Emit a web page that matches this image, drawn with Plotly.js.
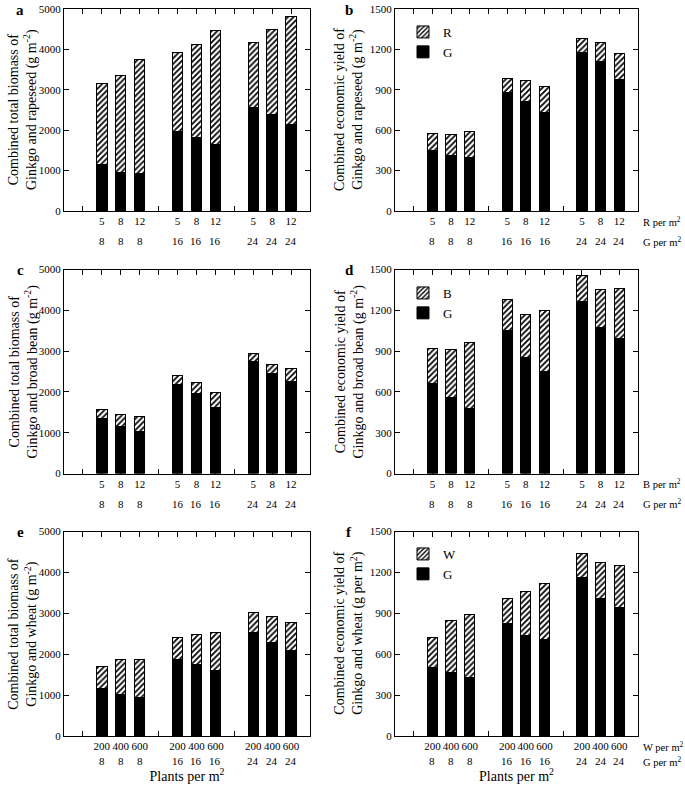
<!DOCTYPE html>
<html><head><meta charset="utf-8">
<script src="https://cdn.plot.ly/plotly-3.0.1.min.js"></script>
<style>html,body{margin:0;padding:0;background:#fff}#chart{width:685px;height:789px}</style>
</head><body><div id="chart"></div>
<script>
// ---- tick labels ----
const cropDensity  = ['5','8','12','5','8','12','5','8','12'];
const wheatDensity = ['200','400','600','200','400','600','200','400','600'];
const ginkgoDensity = ['8','8','8','16','16','16','24','24','24'];

// ---- (a) total biomass, Ginkgo + rapeseed (g m-2) ----
const aGinkgo   = [1140, 950, 920, 1960, 1810, 1640, 2570, 2390, 2130];
const aRapeseed = [2010, 2410, 2820, 1970, 2310, 2820, 1600, 2110, 2680];
// ---- (b) economic yield, Ginkgo + rapeseed ----
const bGinkgo   = [452, 413, 400, 878, 813, 734, 1180, 1108, 980];
const bRapeseed = [126, 155, 193, 106, 156, 191, 100, 142, 193];
// ---- (c) total biomass, Ginkgo + broad bean ----
const cGinkgo    = [1360, 1150, 1030, 2190, 1970, 1620, 2740, 2440, 2260];
const cBroadBean = [220, 290, 360, 210, 260, 360, 190, 240, 310];
// ---- (d) economic yield, Ginkgo + broad bean ----
const dGinkgo    = [660, 560, 480, 1050, 850, 750, 1265, 1075, 995];
const dBroadBean = [260, 355, 480, 230, 320, 450, 193, 279, 365];
// ---- (e) total biomass, Ginkgo + wheat ----
const eGinkgo = [1150, 1020, 950, 1880, 1740, 1610, 2530, 2290, 2090];
const eWheat  = [560, 860, 930, 520, 740, 910, 480, 620, 680];
// ---- (f) economic yield, Ginkgo + wheat ----
const fGinkgo = [505, 465, 430, 825, 740, 710, 1160, 1010, 940];
const fWheat  = [220, 380, 460, 185, 320, 405, 180, 260, 310];

const FONT = 'Liberation Serif, Times New Roman, serif';
const slot = i => Math.floor(i / 3) * 4 + (i % 3) + 2;   // 3 groups of 3 bars, one empty slot between groups
const xs = ginkgoDensity.map((_, i) => slot(i));
const allSlots = [1,2,3,4,5,6,7,8,9,10,11,12];

const colX = [[64/685, 310/685], [395/685, 638/685]];
const rowY = [[1-211/789, 1-9/789], [1-473.5/789, 1-269.5/789], [1-736/789, 1-531.5/789]];
const titleX = [23, 349];

const panels = [
  {letter:'a', g:aGinkgo, o:aRapeseed, oName:'R', top:cropDensity, yMax:5000, yStep:1000,
   title:'Combined total biomass of<br>Ginkgo and rapeseed (g m<sup>-2</sup>)'},
  {letter:'b', g:bGinkgo, o:bRapeseed, oName:'R', top:cropDensity, yMax:1500, yStep:300, legend:'legend',
   title:'Combined economic yield of<br>Ginkgo and rapeseed (g m<sup>-2</sup>)'},
  {letter:'c', g:cGinkgo, o:cBroadBean, oName:'B', top:cropDensity, yMax:5000, yStep:1000,
   title:'Combined total biomass of<br>Ginkgo and broad bean (g m<sup>-2</sup>)'},
  {letter:'d', g:dGinkgo, o:dBroadBean, oName:'B', top:cropDensity, yMax:1500, yStep:300, legend:'legend2',
   title:'Combined economic yield of<br>Ginkgo and broad bean (g m<sup>-2</sup>)'},
  {letter:'e', g:eGinkgo, o:eWheat, oName:'W', top:wheatDensity, yMax:5000, yStep:1000,
   title:'Combined total biomass of<br>Ginkgo and wheat (g m<sup>-2</sup>)'},
  {letter:'f', g:fGinkgo, o:fWheat, oName:'W', top:wheatDensity, yMax:1500, yStep:300, legend:'legend3',
   title:'Combined economic yield of<br>Ginkgo and wheat (g per m<sup>2</sup>)'}
];

const data = [];
const layout = {
  width: 685, height: 789, margin: {l:0, r:0, t:0, b:0},
  paper_bgcolor: 'white', plot_bgcolor: 'white',
  barmode: 'stack', showlegend: true,
  font: {family: FONT, color: 'black', size: 11},
  annotations: []
};

panels.forEach((p, k) => {
  const n = k + 1, sfx = n === 1 ? '' : String(n);
  const col = k % 2, row = Math.floor(k / 2);
  const xa = 'x' + sfx, ya = 'y' + sfx;
  const legendOn = !!p.legend;
  data.push({
    type:'bar', x: xs, y: p.g, name:'G', xaxis: xa, yaxis: ya, width: 0.55,
    marker:{color:'black', line:{color:'black', width:1}},
    showlegend: legendOn, legend: p.legend || 'legend', hoverinfo:'y'
  });
  data.push({
    type:'bar', x: xs, y: p.o, name: p.oName, xaxis: xa, yaxis: ya, width: 0.55,
    marker:{color:'white', line:{color:'black', width:1},
            pattern:{shape:'/', fgcolor:'black', bgcolor:'white', size:4, solidity:0.45}},
    showlegend: legendOn, legend: p.legend || 'legend', hoverinfo:'y'
  });
  const xAxis = {
    domain: colX[col], anchor: ya, range: [0, 13],
    tickmode:'array', tickvals: xs, ticktext: p.top, tickangle: 0,
    ticks:'inside', ticklen:5, tickwidth:1, tickcolor:'black',
    minor:{tickmode:'array', tickvals: allSlots, ticks:'inside', ticklen:5, tickwidth:1, tickcolor:'black', showgrid:false},
    showline:true, linecolor:'black', linewidth:1, mirror:'ticks',
    showgrid:false, zeroline:false, layer:'below traces',
    tickfont:{family:FONT, size:11, color:'black'}, fixedrange:true
  };
  if (row === 2) {
    xAxis.title = {text:'Plants per m<sup>2</sup>', font:{family:FONT, size:14, color:'black'}, standoff: 19};
  }
  const yvals = []; for (let v = 0; v <= p.yMax; v += p.yStep) yvals.push(v);
  const yAxis = {
    domain: rowY[row], anchor: xa, range: [0, p.yMax],
    tickmode:'array', tickvals: yvals, ticktext: yvals.map(String),
    ticks:'inside', ticklen:5, tickwidth:1, tickcolor:'black',
    showline:true, linecolor:'black', linewidth:1, mirror:'ticks',
    showgrid:false, zeroline:false, layer:'below traces',
    tickfont:{family:FONT, size:11, color:'black'}, fixedrange:true
  };
  layout['xaxis' + sfx] = xAxis;
  layout['yaxis' + sfx] = yAxis;

  // y-axis title (two lines, rotated)
  layout.annotations.push({text: p.title, textangle: -90, xref:'paper', yref: ya + ' domain',
    x: titleX[col] / 685, y: 0.5, xanchor:'center', yanchor:'middle', showarrow:false,
    font:{family:FONT, size:14, color:'black'}});

  // second row of x labels: Ginkgo density
  const gap = row === 2 ? 25 : 30;
  ginkgoDensity.forEach((g, i) => {
    layout.annotations.push({text:g, xref:xa, yref: ya + ' domain', x: xs[i], y:0, yshift:-gap,
      xanchor:'center', yanchor:'middle', showarrow:false, font:{family:FONT, size:11, color:'black'}});
  });
  if (col === 1) {
    layout.annotations.push({text: p.oName + ' per m<sup>2</sup>', xref: xa + ' domain', yref: ya + ' domain',
      x:1, y:0, xshift:3, yshift:-10, xanchor:'left', yanchor:'middle', showarrow:false,
      font:{family:FONT, size:10.5, color:'black'}});
    layout.annotations.push({text: 'G per m<sup>2</sup>', xref: xa + ' domain', yref: ya + ' domain',
      x:1, y:0, xshift:3, yshift:-gap, xanchor:'left', yanchor:'middle', showarrow:false,
      font:{family:FONT, size:10.5, color:'black'}});
  }
  // panel letter
  layout.annotations.push({text:'<b>' + p.letter + '</b>', xref:'paper', yref:'paper',
    x: (col === 0 ? 20 : 349) / 685, y: 1 - ([10, 270, 532][row]) / 789,
    xanchor:'center', yanchor:'middle', showarrow:false, font:{family:FONT, size:15, color:'black'}});

  if (legendOn) {
    layout[p.legend] = {
      x: 403/685, y: 1 - ([9, 270, 531][row] + 8) / 789, xanchor:'left', yanchor:'top',
      traceorder:'reversed', bgcolor:'rgba(0,0,0,0)', borderwidth:0,
      font:{family:FONT, size:13, color:'black'}, itemclick:false, itemdoubleclick:false
    };
  }
});

Plotly.newPlot('chart', data, layout, {displayModeBar:false, staticPlot:true});
</script>
</body></html>
